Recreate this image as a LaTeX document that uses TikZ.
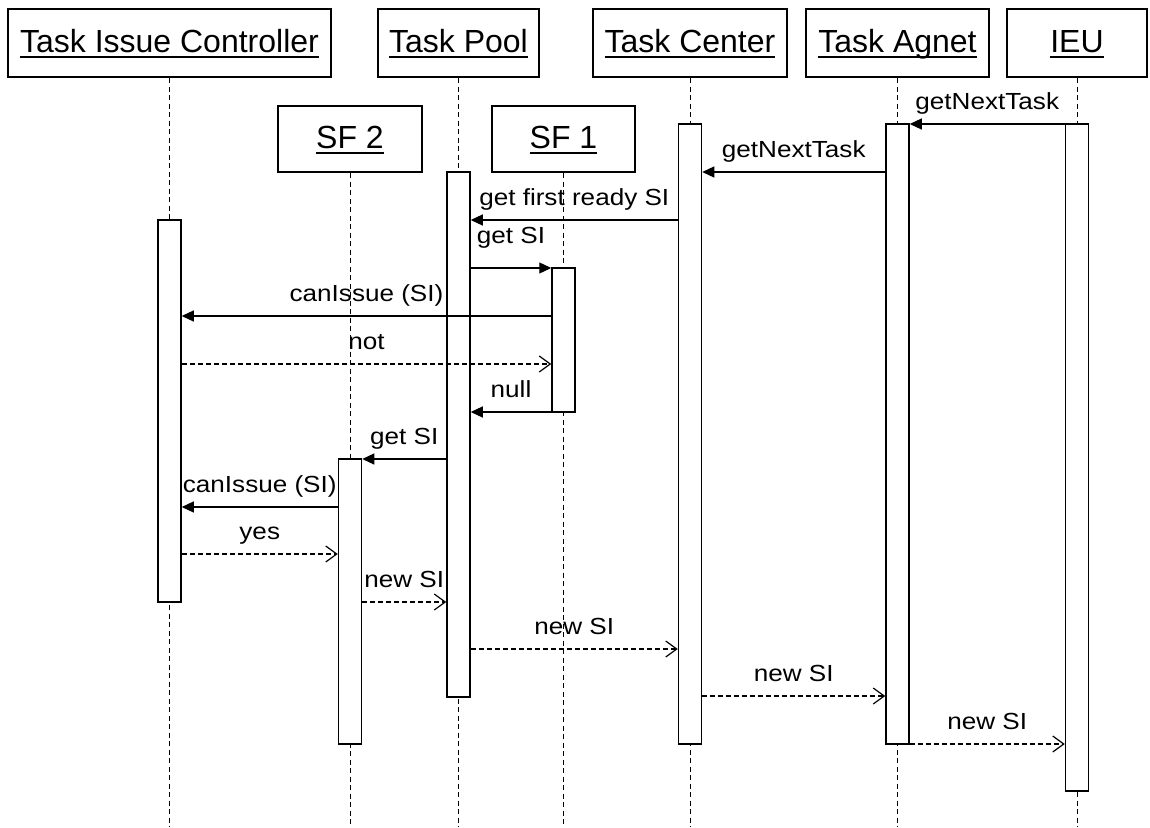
\documentclass[tikz,border=0pt]{standalone}
\usepackage{fontspec}
\setmainfont{Liberation Sans}
\newfontfamily\labfont[FakeStretch=1.12]{Liberation Sans}
\usetikzlibrary{arrows.meta}
\newcommand\ulbox[1]{\setbox0\hbox{#1}\rlap{\rule[-5.8pt]{\wd0}{2.2pt}}\box0}
\begin{document}
\begin{tikzpicture}[x=1pt,y=-1pt,
 obj/.style={draw, line width=2pt, fill=white, minimum height=68pt, inner sep=0pt,
   text height=23pt, text depth=4pt, font=\fontsize{32}{38}\selectfont},
 act/.style={draw, line width=1.5pt, fill=white, minimum width=23pt, inner sep=0pt},
 life/.style={line width=1pt, dash pattern=on 5pt off 3.5pt},
 call/.style={line width=1.2pt, -{Triangle[length=12pt,width=11pt]}},
 ret/.style={line width=1.2pt, dash pattern=on 5pt off 3pt,
   -{Straight Barb[length=11pt,width=16pt,line width=1.2pt]}},
 lab/.style={anchor=base, inner sep=0pt, font=\labfont\fontsize{23.3}{28}\selectfont, yshift=#1},
 lab/.default=14.5pt
]
\fill[white] (0,0) rectangle (1150,827);
\useasboundingbox (0,0) rectangle (1150,827);
\coordinate (bot) at (0,827);

% objects
\node[obj, minimum width=323pt] (tic) at (169.5,43) {\ulbox{Task Issue Controller}};
\node[obj, minimum width=161pt] (tp) at (458.5,43) {\ulbox{Task Pool}};
\node[obj, minimum width=194pt] (tc) at (690,43) {\ulbox{Task Center}};
\node[obj, minimum width=183pt] (ta) at (897.5,43) {\ulbox{Task Agnet}};
\node[obj, minimum width=140pt] (ieu) at (1077,43) {\ulbox{IEU}};
\node[obj, minimum width=144pt, minimum height=66pt] (sf2) at (350,139) {\ulbox{SF 2}};
\node[obj, minimum width=143pt, minimum height=66pt] (sf1) at (563.5,139) {\ulbox{SF 1}};

% lifelines
\foreach \n in {tic,tp,tc,ta,ieu,sf2,sf1}
  \draw[life] (\n.south) -- (\n.south |- bot);

% activations
\node[act, minimum height=382pt] (atic) at (169.5,411) {};
\node[act, minimum height=285pt] (asf2) at (350,601.5) {};
\node[act, minimum height=525pt] (atp) at (458.5,434.5) {};
\node[act, minimum height=144pt] (asf1) at (563.5,340) {};
\node[act, minimum height=620pt] (atc) at (690,434) {};
\node[act, minimum height=620pt] (ata) at (897.5,434) {};
\node[act, minimum height=667pt] (aieu) at (1077,457.5) {};

% messages
\draw[call] (aieu.west |- 0,124) -- node[lab]{getNextTask} (ata.east |- 0,124);
\draw[call] (ata.west |- 0,172) -- node[lab]{getNextTask} (atc.east |- 0,172);
\draw[call] (atc.west |- 0,220) -- node[lab]{get first ready SI} (atp.east |- 0,220);
\draw[call] (atp.east |- 0,268) -- node[lab=25pt]{get SI} (asf1.west |- 0,268);
\draw[call] (asf1.west |- 0,316) -- node[lab]{canIssue (SI)} (atic.east |- 0,316);
\draw[ret] (atic.east |- 0,364) -- node[lab]{not} (asf1.west |- 0,364);
\draw[call] (asf1.west |- 0,412) -- node[lab]{null} (atp.east |- 0,412);
\draw[call] (atp.west |- 0,459) -- node[lab]{get SI} (asf2.east |- 0,459);
\draw[call] (asf2.west |- 0,507) -- node[lab]{canIssue (SI)} (atic.east |- 0,507);
\draw[ret] (atic.east |- 0,554) -- node[lab]{yes} (asf2.west |- 0,554);
\draw[ret] (asf2.east |- 0,602) -- node[lab]{new SI} (atp.west |- 0,602);
\draw[ret] (atp.east |- 0,649) -- node[lab]{new SI} (atc.west |- 0,649);
\draw[ret] (atc.east |- 0,696) -- node[lab]{new SI} (ata.west |- 0,696);
\draw[ret] (ata.east |- 0,744) -- node[lab]{new SI} (aieu.west |- 0,744);
\end{tikzpicture}
\end{document}
